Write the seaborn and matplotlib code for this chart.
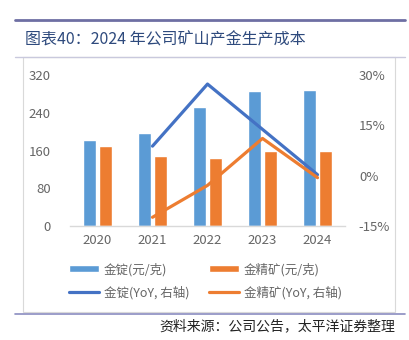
import numpy as np
import pandas as pd
import matplotlib
matplotlib.use("Agg")
import matplotlib.pyplot as plt
import seaborn as sns
from matplotlib.lines import Line2D
from matplotlib.patches import Rectangle
from matplotlib.ticker import FuncFormatter

# ---- data ----
years = ["2020", "2021", "2022", "2023", "2024"]
ingot_cost = [182, 198, 252, 287, 288]          # 金锭 (元/克)
conc_cost = [169, 148, 144, 160, 159]           # 金精矿 (元/克)
yoy_years = ["2021", "2022", "2023", "2024"]
ingot_yoy = [8.8, 27.3, 13.8, 0.3]              # %
conc_yoy = [-12.4, -2.9, 11.1, -0.6]            # %
bar_labels = ["金锭(元/克)", "金精矿(元/克)"]
line_labels = ["金锭(YoY, 右轴)", "金精矿(YoY, 右轴)"]
left_ticks = [0, 80, 160, 240, 320]
right_ticks = [-15, 0, 15, 30]
title = "图表40：2024 年公司矿山产金生产成本"
source = "资料来源：公司公告，太平洋证券整理"

sns.set_theme(style="white")
plt.rcParams["font.family"] = ["Noto Sans CJK SC", "DejaVu Sans"]

C_BLUE_BAR = "#5B9BD5"
C_ORANGE = "#ED7D31"
C_BLUE_LINE = "#4472C4"
C_TEXT = "#666666"

df = pd.DataFrame({
    "year": years * 2,
    "value": ingot_cost + conc_cost,
    "series": [bar_labels[0]] * len(years) + [bar_labels[1]] * len(years),
})

fig = plt.figure(figsize=(4.1, 3.4), dpi=100)
ax = fig.add_axes([70 / 410, 1 - 226 / 340, 275 / 410, 151 / 340])

sns.barplot(data=df, x="year", y="value", hue="series", order=years,
            palette=[C_BLUE_BAR, C_ORANGE], width=0.58, gap=0.2,
            ax=ax, saturation=1, legend=True)
h_bars, l_bars = ax.get_legend_handles_labels()
ax.get_legend().remove()

ax.set_ylim(0, 320)
ax.set_yticks(left_ticks)
ax.set_xlim(-0.5, len(years) - 0.5)
ax.set_xlabel("")
ax.set_ylabel("")
for s in ["top", "right", "left"]:
    ax.spines[s].set_visible(False)
ax.spines["bottom"].set_color("#D9D9D9")
ax.spines["bottom"].set_linewidth(1.0)
ax.tick_params(axis="both", length=0, labelsize=9.5, labelcolor=C_TEXT)
ax.tick_params(axis="y", pad=14)
ax.tick_params(axis="x", pad=6)

ax2 = ax.twinx()
xpos = [years.index(y) for y in yoy_years]
dl = pd.DataFrame({"x": xpos * 2, "yoy": ingot_yoy + conc_yoy,
                   "series": [line_labels[0]] * len(xpos) + [line_labels[1]] * len(xpos)})
sns.lineplot(data=dl, x="x", y="yoy", hue="series",
             palette=[C_BLUE_LINE, C_ORANGE], linewidth=2.3, ax=ax2, legend=True)
h_lines, l_lines = ax2.get_legend_handles_labels()
ax2.get_legend().remove()
ax2.set_ylim(-15, 30)
ax2.set_yticks(right_ticks)
ax2.yaxis.set_major_formatter(FuncFormatter(lambda v, p: f"{v:.0f}%"))
ax2.set_xlabel("")
ax2.set_ylabel("")
for s in ["top", "right", "left", "bottom"]:
    ax2.spines[s].set_visible(False)
ax2.tick_params(axis="y", length=0, labelsize=9.5, labelcolor=C_TEXT, pad=10)
ax.set_xlim(-0.5, len(years) - 0.5)

# legend
handles = [h_bars[0], h_lines[0], h_bars[1], h_lines[1]]
labels = [l_bars[0], l_lines[0], l_bars[1], l_lines[1]]
for h in h_lines:
    h.set_linewidth(2.3)
leg = fig.legend(handles, labels, ncol=2, loc="center left",
                 bbox_to_anchor=(58 / 410, 1 - 281 / 340), frameon=False,
                 fontsize=9, handlelength=2.4, handleheight=0.5,
                 columnspacing=1.6, labelspacing=0.75, handletextpad=0.35)
for t in leg.get_texts():
    t.set_color(C_TEXT)

# decorations: title rules, box
W, H = 410, 340
fig.add_artist(Line2D([15 / W, 405 / W], [1 - 20 / H, 1 - 20 / H], color="#6E6FA3", linewidth=2))
fig.add_artist(Line2D([15 / W, 405 / W], [1 - 57 / H, 1 - 57 / H], color="#C9C9DD", linewidth=1))
fig.add_artist(Rectangle((23 / W, 1 - 312 / H), (395 - 23) / W, (312 - 57) / H,
                         fill=False, edgecolor="#D9D9D9", linewidth=0.8))
fig.add_artist(Line2D([15 / W, 405 / W], [1 - 314 / H, 1 - 314 / H], color="#8A8CC0", linewidth=1.2))

fig.text(25 / W, 1 - 40 / H, title, fontsize=11.5, color="#2E4A7D", va="center", ha="left")
fig.text(395 / W, 1 - 326 / H, source, fontsize=10, color="#222222", va="center", ha="right",
         style="italic")

fig.savefig("out.png", dpi=100)
